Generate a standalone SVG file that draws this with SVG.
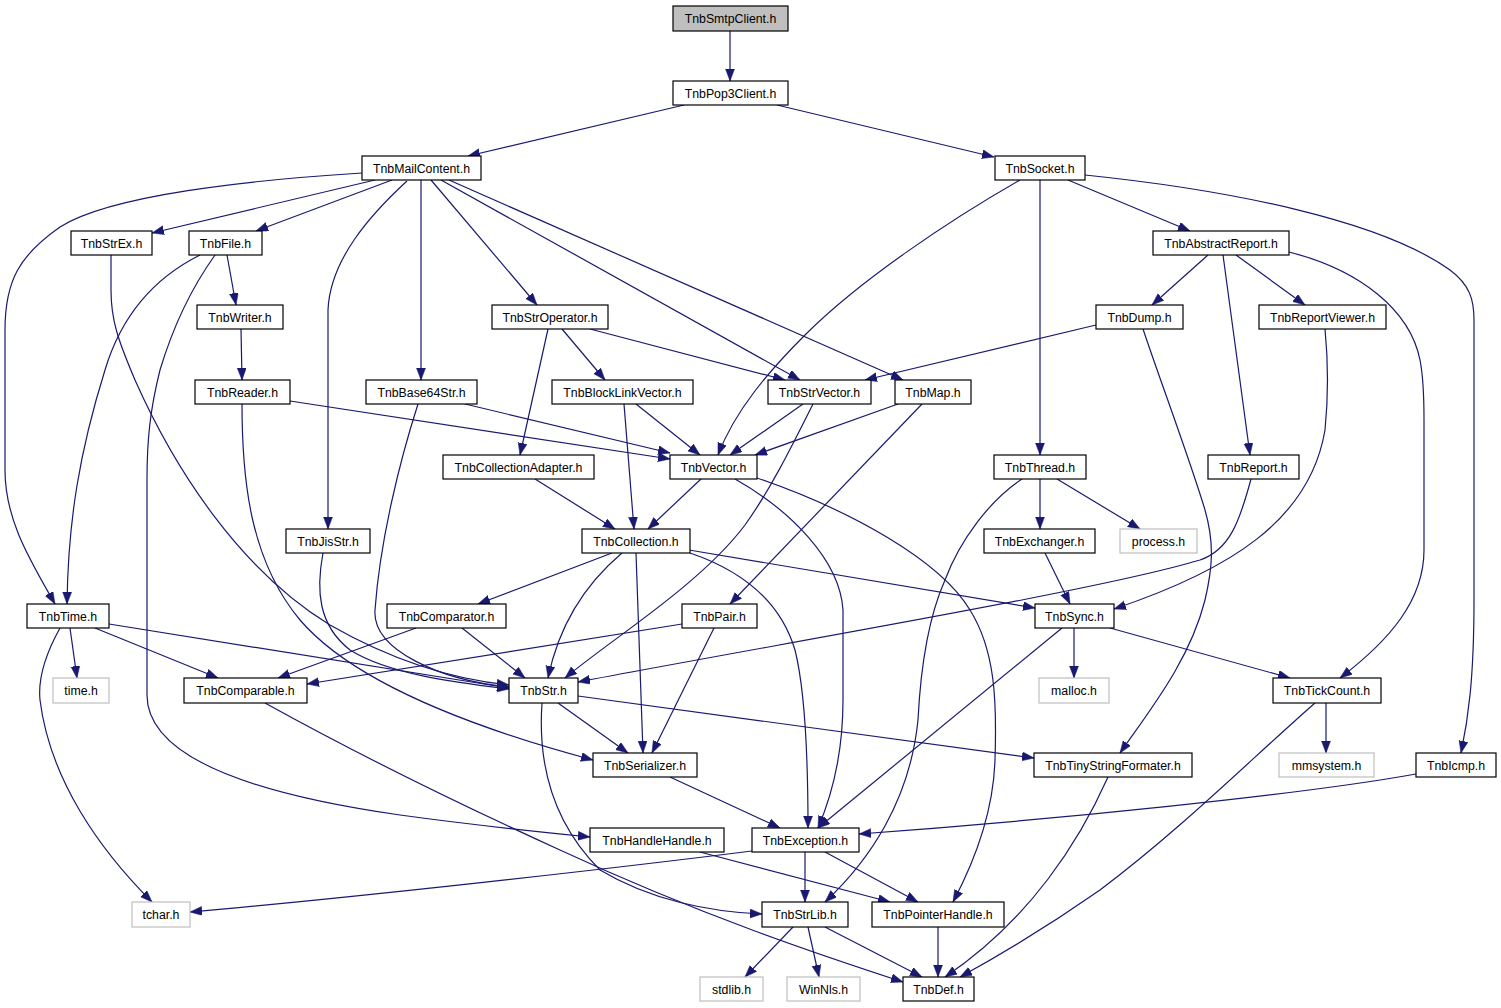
<svg xmlns="http://www.w3.org/2000/svg" width="1501" height="1008" viewBox="0 0 1501 1008">
<defs>
<marker id="ah" markerUnits="userSpaceOnUse" markerWidth="13" markerHeight="10" refX="12" refY="4.5" orient="auto"><path d="M0,0 L12,4.5 L0,9 z" fill="#191970" stroke="#191970" stroke-width="0.5"/></marker>
<style>
.n rect{fill:#ffffff;stroke:#000000;stroke-width:1.2}
.x rect{fill:#ffffff;stroke:#bfbfbf;stroke-width:1.2}
.r rect{fill:#bfbfbf;stroke:#000000;stroke-width:1.2}
text{font-family:"Liberation Sans",Arial,sans-serif;font-size:12.3px;fill:#000;text-anchor:middle}
#edges path{fill:none;stroke:#191970;stroke-width:1.2;marker-end:url(#ah)}
</style>
</defs>
<rect width="1501" height="1008" fill="#ffffff"/>
<g id="edges">
<path d="M730,31 L730,81"/>
<path d="M684,105 L468,156"/>
<path d="M777,105 L994,157"/>
<path d="M362,173 C250,180 110,195 60,227 C20,255 5,280 5,330 L5,470 C5,520 30,560 55,604"/>
<path d="M375,180 L152,233"/>
<path d="M392,180 L256,231"/>
<path d="M407,181 C370,215 330,260 328,310 L328,529"/>
<path d="M421,180 L421,380"/>
<path d="M431,180 L537,305"/>
<path d="M441,180 L800,380"/>
<path d="M449,180 L903,380"/>
<path d="M227,255 L236,305"/>
<path d="M200,255 C150,280 120,320 105,370 C80,450 68,520 67,604"/>
<path d="M215,255 C190,290 172,330 160,370 C150,410 147,440 147,480 L147,695 C147,760 260,795 400,815 C480,826 540,832 590,837"/>
<path d="M111,255 L111,290 C111,320 118,340 135,380 C175,470 240,570 330,625 C400,665 460,680 509,685"/>
<path d="M241,329 L242,380"/>
<path d="M290,401 L670,459"/>
<path d="M242,404 C242,480 250,560 300,620 C360,690 500,735 593,760"/>
<path d="M418,404 C400,460 380,540 375,610 C372,650 440,680 509,687"/>
<path d="M323,553 C316,590 318,625 350,650 C390,675 460,683 509,689"/>
<path d="M548,329 L520,455"/>
<path d="M562,329 L605,380"/>
<path d="M590,329 L785,380"/>
<path d="M636,404 L700,455"/>
<path d="M624,404 L634,529"/>
<path d="M803,404 L730,455"/>
<path d="M813,404 C790,450 770,490 745,525 C700,585 610,640 565,678"/>
<path d="M898,404 L755,455"/>
<path d="M922,404 L730,604"/>
<path d="M465,404 L670,453"/>
<path d="M1020,180 C950,220 860,280 805,335 C770,370 735,410 718,455"/>
<path d="M1040,180 L1040,455"/>
<path d="M1068,180 L1190,231"/>
<path d="M1085,175 C1230,190 1380,220 1450,270 C1470,285 1474,300 1474,320 L1474,600 C1474,680 1468,720 1461,753"/>
<path d="M1208,255 L1152,305"/>
<path d="M1223,255 L1250,455"/>
<path d="M1236,255 L1305,305"/>
<path d="M1289,252 C1360,270 1410,310 1420,360 C1424,380 1424,400 1424,420 L1424,550 C1424,600 1390,640 1340,678"/>
<path d="M1096,325 L865,380"/>
<path d="M1143,329 C1160,380 1190,460 1205,510 C1215,545 1212,570 1205,600 C1190,660 1150,710 1120,753"/>
<path d="M1325,329 C1328,360 1328,400 1325,430 C1310,520 1230,570 1114,609"/>
<path d="M1251,479 C1240,520 1230,550 1200,560 C1100,590 800,640 578,682"/>
<path d="M1040,479 L1040,529"/>
<path d="M1057,479 L1140,529"/>
<path d="M1022,479 C990,500 960,540 945,580 C925,625 920,680 918,720 C910,800 870,860 825,902"/>
<path d="M1045,553 L1070,604"/>
<path d="M1074,628 L1074,678"/>
<path d="M1062,628 L818,828"/>
<path d="M1110,628 L1290,678"/>
<path d="M701,479 L648,529"/>
<path d="M735,479 C790,510 840,560 843,610 L843,700 C843,760 830,800 818,828"/>
<path d="M757,478 C850,510 940,560 970,610 C995,650 997,700 995,760 C993,820 970,870 953,902"/>
<path d="M690,553 C740,570 780,600 795,650 C805,690 808,760 808,828"/>
<path d="M612,553 L478,604"/>
<path d="M622,553 C590,580 560,620 548,678"/>
<path d="M636,553 L643,753"/>
<path d="M689,550 L1035,608"/>
<path d="M535,479 L615,529"/>
<path d="M70,628 L77,678"/>
<path d="M95,628 L218,678"/>
<path d="M109,624 L509,688"/>
<path d="M60,628 C45,655 38,680 40,700 C50,780 100,850 152,902"/>
<path d="M462,628 L525,678"/>
<path d="M416,628 L278,678"/>
<path d="M682,624 L307,684"/>
<path d="M714,628 L652,753"/>
<path d="M265,703 C350,750 450,800 560,850 C700,915 820,955 903,982"/>
<path d="M558,703 L628,753"/>
<path d="M578,696 L1034,758"/>
<path d="M542,703 C538,760 550,820 600,870 C650,900 710,912 762,914"/>
<path d="M1326,703 L1326,753"/>
<path d="M1315,703 C1250,760 1180,830 1100,890 C1050,925 1000,955 960,977"/>
<path d="M1108,777 C1080,840 1030,920 945,977"/>
<path d="M1416,774 C1300,795 1050,820 859,834"/>
<path d="M670,777 L780,828"/>
<path d="M700,852 L890,902"/>
<path d="M805,852 L805,902"/>
<path d="M825,852 L918,902"/>
<path d="M752,851 C600,870 350,898 190,912"/>
<path d="M793,927 L745,977"/>
<path d="M808,927 L819,977"/>
<path d="M825,927 L922,977"/>
<path d="M938,927 L938,977"/>
</g>
<g id="n_smtp" class="r"><rect x="673" y="6" width="115" height="25"/><text x="730.5" y="22.5">TnbSmtpClient.h</text></g>
<g id="n_pop3" class="n"><rect x="673" y="81" width="115" height="24"/><text x="730.5" y="97.5">TnbPop3Client.h</text></g>
<g id="n_mailcontent" class="n"><rect x="362" y="156" width="119" height="24"/><text x="421.5" y="172.5">TnbMailContent.h</text></g>
<g id="n_socket" class="n"><rect x="995" y="156" width="90" height="24"/><text x="1040" y="172.5">TnbSocket.h</text></g>
<g id="n_strex" class="n"><rect x="71" y="231" width="81" height="24"/><text x="111.5" y="247.5">TnbStrEx.h</text></g>
<g id="n_file" class="n"><rect x="189" y="231" width="73" height="24"/><text x="225.5" y="247.5">TnbFile.h</text></g>
<g id="n_abstractreport" class="n"><rect x="1153" y="231" width="136" height="24"/><text x="1221" y="247.5">TnbAbstractReport.h</text></g>
<g id="n_writer" class="n"><rect x="197" y="305" width="86" height="24"/><text x="240" y="321.5">TnbWriter.h</text></g>
<g id="n_stroperator" class="n"><rect x="492" y="305" width="116" height="24"/><text x="550" y="321.5">TnbStrOperator.h</text></g>
<g id="n_dump" class="n"><rect x="1096" y="305" width="87" height="24"/><text x="1139.5" y="321.5">TnbDump.h</text></g>
<g id="n_reportviewer" class="n"><rect x="1259" y="305" width="127" height="24"/><text x="1322.5" y="321.5">TnbReportViewer.h</text></g>
<g id="n_reader" class="n"><rect x="195" y="380" width="95" height="24"/><text x="242.5" y="396.5">TnbReader.h</text></g>
<g id="n_base64" class="n"><rect x="366" y="380" width="111" height="24"/><text x="421.5" y="396.5">TnbBase64Str.h</text></g>
<g id="n_blocklink" class="n"><rect x="552" y="380" width="141" height="24"/><text x="622.5" y="396.5">TnbBlockLinkVector.h</text></g>
<g id="n_strvector" class="n"><rect x="768" y="380" width="103" height="24"/><text x="819.5" y="396.5">TnbStrVector.h</text></g>
<g id="n_map" class="n"><rect x="895" y="380" width="76" height="24"/><text x="933" y="396.5">TnbMap.h</text></g>
<g id="n_collectionadapter" class="n"><rect x="443" y="455" width="151" height="24"/><text x="518.5" y="471.5">TnbCollectionAdapter.h</text></g>
<g id="n_vector" class="n"><rect x="670" y="455" width="87" height="24"/><text x="713.5" y="471.5">TnbVector.h</text></g>
<g id="n_thread" class="n"><rect x="994" y="455" width="92" height="24"/><text x="1040" y="471.5">TnbThread.h</text></g>
<g id="n_report" class="n"><rect x="1208" y="455" width="91" height="24"/><text x="1253.5" y="471.5">TnbReport.h</text></g>
<g id="n_jisstr" class="n"><rect x="286" y="529" width="84" height="24"/><text x="328" y="545.5">TnbJisStr.h</text></g>
<g id="n_collection" class="n"><rect x="582" y="529" width="108" height="24"/><text x="636" y="545.5">TnbCollection.h</text></g>
<g id="n_exchanger" class="n"><rect x="984" y="529" width="111" height="24"/><text x="1039.5" y="545.5">TnbExchanger.h</text></g>
<g id="n_process" class="x"><rect x="1120" y="529" width="77" height="24"/><text x="1158.5" y="545.5">process.h</text></g>
<g id="n_time" class="n"><rect x="27" y="604" width="82" height="24"/><text x="68" y="620.5">TnbTime.h</text></g>
<g id="n_comparator" class="n"><rect x="387" y="604" width="119" height="24"/><text x="446.5" y="620.5">TnbComparator.h</text></g>
<g id="n_pair" class="n"><rect x="682" y="604" width="75" height="24"/><text x="719.5" y="620.5">TnbPair.h</text></g>
<g id="n_sync" class="n"><rect x="1035" y="604" width="79" height="24"/><text x="1074.5" y="620.5">TnbSync.h</text></g>
<g id="n_timeh" class="x"><rect x="53" y="678" width="56" height="25"/><text x="81" y="694.5">time.h</text></g>
<g id="n_comparable" class="n"><rect x="184" y="678" width="123" height="25"/><text x="245.5" y="694.5">TnbComparable.h</text></g>
<g id="n_str" class="n"><rect x="509" y="678" width="69" height="25"/><text x="543.5" y="694.5">TnbStr.h</text></g>
<g id="n_malloc" class="x"><rect x="1039" y="678" width="70" height="25"/><text x="1074" y="694.5">malloc.h</text></g>
<g id="n_tickcount" class="n"><rect x="1273" y="678" width="108" height="25"/><text x="1327" y="694.5">TnbTickCount.h</text></g>
<g id="n_serializer" class="n"><rect x="593" y="753" width="104" height="24"/><text x="645" y="769.5">TnbSerializer.h</text></g>
<g id="n_tiny" class="n"><rect x="1034" y="753" width="158" height="24"/><text x="1113" y="769.5">TnbTinyStringFormater.h</text></g>
<g id="n_mmsystem" class="x"><rect x="1279" y="753" width="95" height="24"/><text x="1326.5" y="769.5">mmsystem.h</text></g>
<g id="n_icmp" class="n"><rect x="1416" y="753" width="80" height="24"/><text x="1456" y="769.5">TnbIcmp.h</text></g>
<g id="n_handlehandle" class="n"><rect x="590" y="828" width="134" height="24"/><text x="657" y="844.5">TnbHandleHandle.h</text></g>
<g id="n_exception" class="n"><rect x="752" y="828" width="107" height="24"/><text x="805.5" y="844.5">TnbException.h</text></g>
<g id="n_tchar" class="x"><rect x="132" y="902" width="58" height="25"/><text x="161" y="918.5">tchar.h</text></g>
<g id="n_strlib" class="n"><rect x="762" y="902" width="86" height="25"/><text x="805" y="918.5">TnbStrLib.h</text></g>
<g id="n_pointerhandle" class="n"><rect x="872" y="902" width="132" height="25"/><text x="938" y="918.5">TnbPointerHandle.h</text></g>
<g id="n_stdlib" class="x"><rect x="700" y="977" width="63" height="24"/><text x="731.5" y="993.5">stdlib.h</text></g>
<g id="n_winnls" class="x"><rect x="787" y="977" width="73" height="24"/><text x="823.5" y="993.5">WinNls.h</text></g>
<g id="n_def" class="n"><rect x="903" y="977" width="71" height="24"/><text x="938.5" y="993.5">TnbDef.h</text></g>
</svg>
